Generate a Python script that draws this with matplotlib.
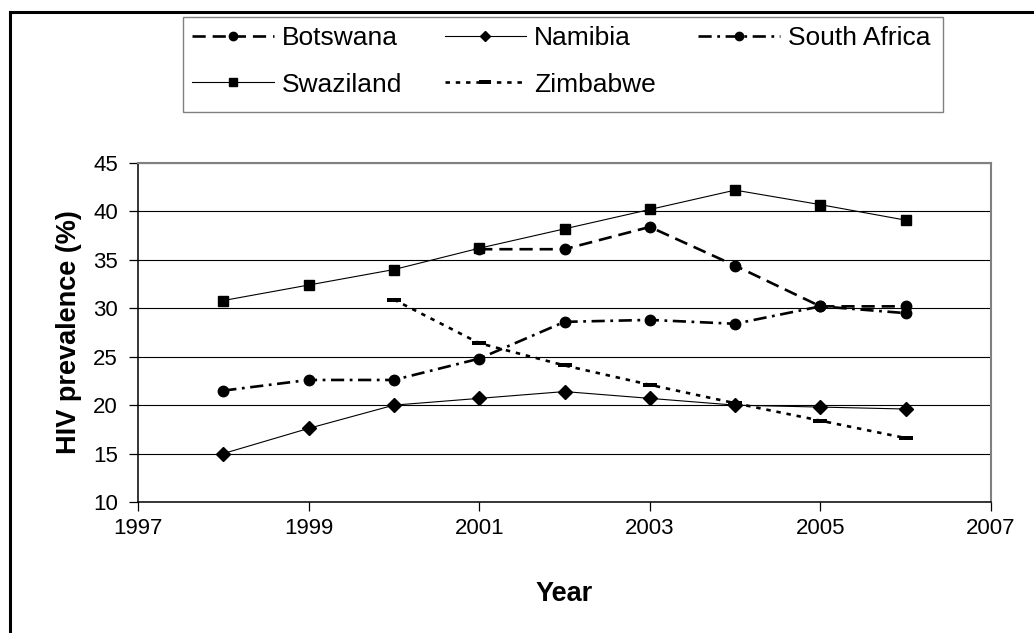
import numpy as np
import matplotlib
matplotlib.use("Agg")
import matplotlib.pyplot as plt
from matplotlib.lines import Line2D
from matplotlib.patches import Rectangle
from matplotlib.path import Path

plt.rcParams['font.family'] = ['Liberation Sans', 'DejaVu Sans']
plt.rcParams['lines.scale_dashes'] = False

# HIV prevalence among adults, by country and year
years = [1998, 1999, 2000, 2001, 2002, 2003, 2004, 2005, 2006]
botswana = [np.nan, np.nan, np.nan, 36.1, 36.1, 38.4, 34.4, 30.2, 30.2]
namibia = [15.0, 17.6, 20.0, 20.7, 21.4, 20.7, 20.0, 19.8, 19.6]
south_africa = [21.5, 22.6, 22.6, 24.8, 28.6, 28.8, 28.4, 30.2, 29.5]
swaziland = [30.8, 32.4, 34.0, 36.2, 38.2, 40.2, 42.2, 40.7, 39.1]
zimbabwe = [np.nan, np.nan, 30.9, 26.4, 24.1, 22.1, 20.2, 18.4, 16.6]

x_ticks = [1997, 1999, 2001, 2003, 2005, 2007]
y_ticks = [10, 15, 20, 25, 30, 35, 40, 45]

W, H = 1034, 633
fig = plt.figure(figsize=(W / 100, H / 100), dpi=100)
ax = fig.add_axes([138 / W, 1 - 502 / H, (991 - 138) / W, (502 - 163) / H])

# flat bar marker used for Zimbabwe
bar_marker = Path([(-1, -0.32), (1, -0.32), (1, 0.32), (-1, 0.32), (-1, -0.32)],
                  [Path.MOVETO, Path.LINETO, Path.LINETO, Path.LINETO, Path.CLOSEPOLY])

h_b, = ax.plot(years, botswana, color='black', lw=1.9, dashes=(9.5, 5),
               marker='o', ms=7.5, label='Botswana', zorder=3)
h_n, = ax.plot(years, namibia, color='black', lw=0.8,
               marker='D', ms=7, label='Namibia', zorder=3)
h_sa, = ax.plot(years, south_africa, color='black', lw=1.9, dashes=(9.5, 4, 2, 4),
                marker='o', ms=7.5, label='South Africa', zorder=3)
h_sw, = ax.plot(years, swaziland, color='black', lw=0.8,
                marker='s', ms=7.5, label='Swaziland', zorder=3)
h_z, = ax.plot(years, zimbabwe, color='black', lw=1.9, dashes=(3.2, 4.2),
               marker=bar_marker, ms=10, mew=0, label='Zimbabwe', zorder=3)

ax.set_xlim(1997, 2007)
ax.set_ylim(10, 45)
ax.set_xticks(x_ticks)
ax.set_yticks(y_ticks)
ax.yaxis.grid(True, color='black', lw=0.8)
ax.set_axisbelow(True)

for side in ('left', 'bottom'):
    ax.spines[side].set_color('black')
    ax.spines[side].set_linewidth(1.1)
for side in ('top', 'right'):
    ax.spines[side].set_color('#808080')
    ax.spines[side].set_linewidth(1.5)

ax.tick_params(axis='both', direction='out', length=6.5, width=0.9,
               color='black', labelsize=16)
ax.tick_params(axis='y', pad=8)
ax.tick_params(axis='x', pad=5)

ax.set_ylabel('HIV prevalence (%)', fontsize=19.5, fontweight='bold', labelpad=8)
ax.set_xlabel('Year', fontsize=19.5, fontweight='bold', labelpad=30)

# legend laid out row by row across three columns
handles = [h_b, h_sw, h_n, h_z, h_sa]
leg = fig.legend(handles=handles, labels=[h.get_label() for h in handles],
                 ncol=3, loc='upper left', bbox_to_anchor=(183 / W, 1 - 17 / H),
                 frameon=False, fontsize=19,
                 handlelength=3.1, handletextpad=0.3, columnspacing=1.6,
                 borderpad=0.35, labelspacing=0.85, markerscale=0.8,
                 borderaxespad=0)

# legend box
fig.add_artist(Rectangle((183 / W, 1 - 112 / H), (943 - 183) / W, (112 - 17) / H,
                         transform=fig.transFigure, fill=False,
                         edgecolor='#808080', lw=1.0))

# outer chart border
fig.add_artist(Line2D([9.5 / W, 9.5 / W], [0, 1 - 12 / H], transform=fig.transFigure,
                      color='black', lw=2.2))
fig.add_artist(Line2D([9.5 / W, 1], [1 - 12 / H, 1 - 12 / H], transform=fig.transFigure,
                      color='black', lw=2.2))

fig.savefig('out.png', dpi=100)
